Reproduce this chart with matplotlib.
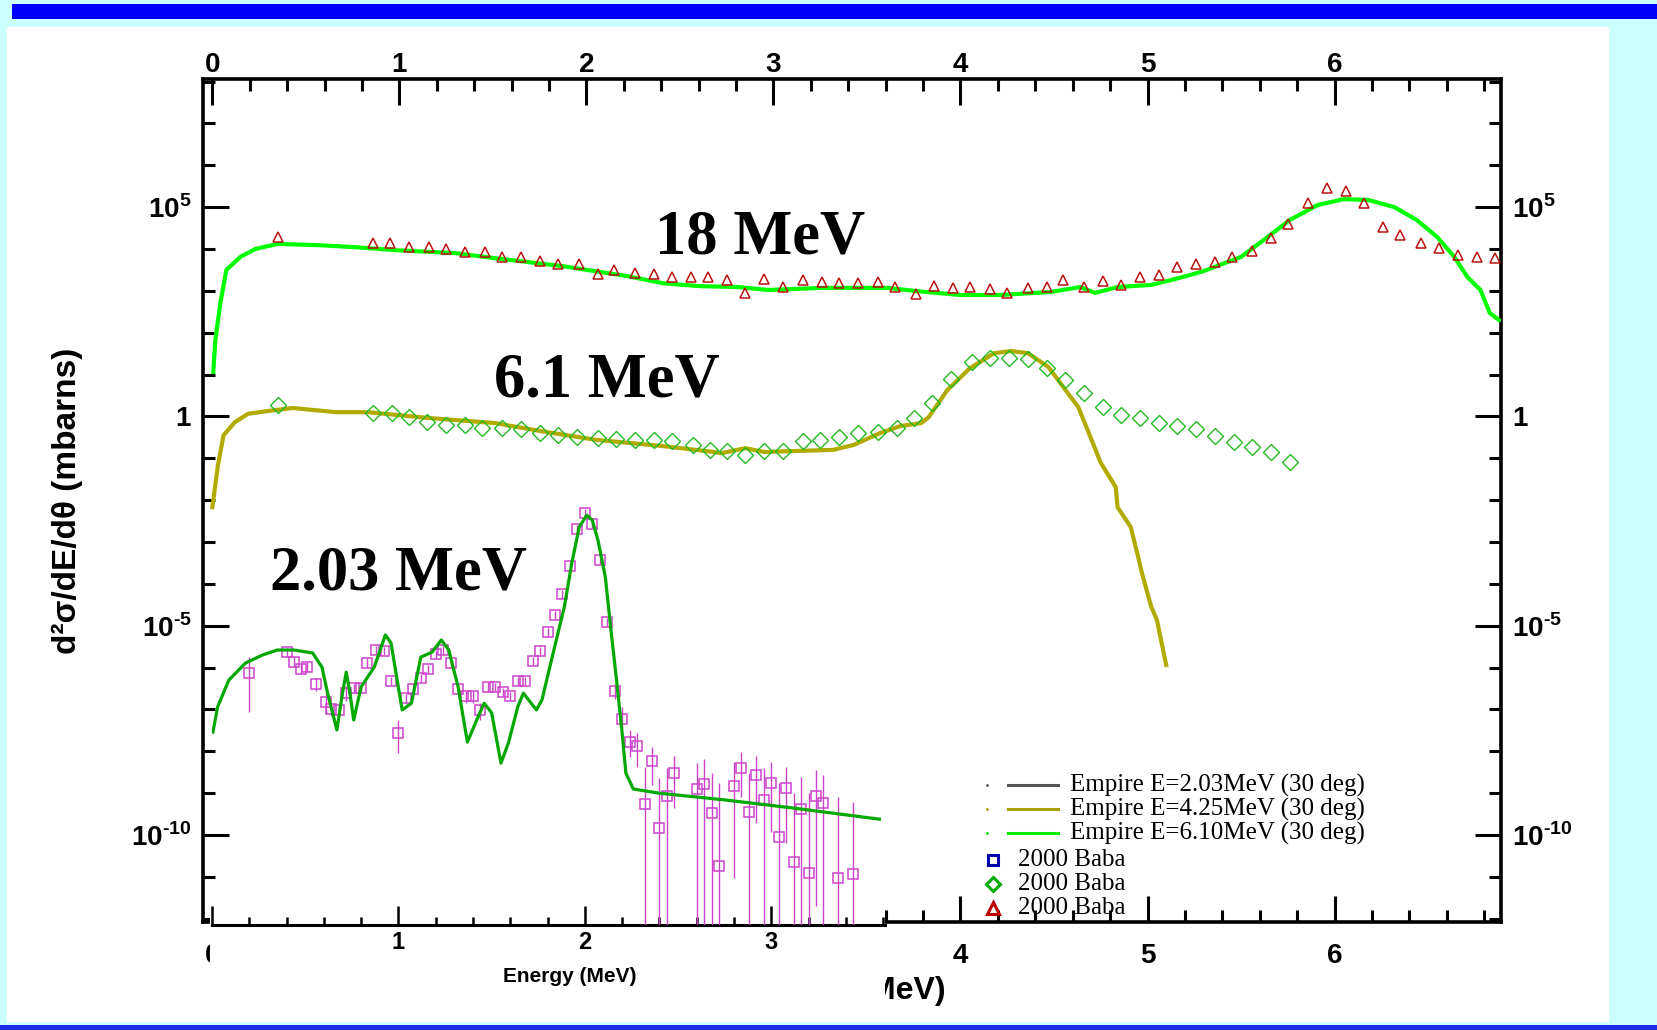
import numpy as np
import matplotlib
matplotlib.use("Agg")
import matplotlib.pyplot as plt
from matplotlib.patches import Rectangle
from matplotlib.lines import Line2D
from matplotlib.ticker import FixedLocator, FixedFormatter, MultipleLocator, NullFormatter

plt.rcParams['font.family'] = ['Liberation Sans', 'DejaVu Sans']
plt.rcParams['font.weight'] = 'bold'
plt.rcParams['axes.labelweight'] = 'bold'
plt.rcParams['mathtext.fontset'] = 'custom'
plt.rcParams['mathtext.rm'] = 'Liberation Sans:bold'
plt.rcParams['mathtext.bf'] = 'Liberation Sans:bold'

# --- 18 MeV: Empire calculation E=6.10 MeV and Baba (2000) data, log10(mb) ---
e18_calc = [0.005, 0.016, 0.043, 0.075, 0.15, 0.23, 0.35, 0.57, 0.77, 0.98, 1.30, 1.51,
            1.87, 2.22, 2.41, 2.61, 2.81, 2.97, 3.27, 3.61, 3.77, 4.00, 4.21, 4.48, 4.64,
            4.72, 4.84, 5.02, 5.19, 5.30, 5.50, 5.62, 5.76, 5.91, 6.05, 6.18, 6.32, 6.44,
            6.55, 6.64, 6.71, 6.78, 6.83, 6.88]
log18_calc = [1.06, 1.82, 2.71, 3.50, 3.81, 4.00, 4.12, 4.09, 4.04, 3.97, 3.90, 3.78,
              3.59, 3.35, 3.18, 3.11, 3.09, 3.02, 3.07, 3.07, 2.99, 2.90, 2.90, 2.97, 3.09,
              2.95, 3.09, 3.14, 3.33, 3.47, 3.81, 4.21, 4.69, 5.05, 5.19, 5.17, 5.00, 4.69,
              4.28, 3.81, 3.33, 3.02, 2.47, 2.30]
e18_exp = [0.35, 0.86, 0.95, 1.05, 1.16, 1.25, 1.35, 1.46, 1.55, 1.65, 1.75, 1.85, 1.96,
           2.06, 2.15, 2.26, 2.36, 2.46, 2.56, 2.65, 2.75, 2.85, 2.95, 3.05, 3.16, 3.26,
           3.35, 3.45, 3.56, 3.65, 3.76, 3.86, 3.96, 4.05, 4.16, 4.25, 4.36, 4.46, 4.55,
           4.66, 4.76, 4.86, 4.96, 5.06, 5.16, 5.26, 5.36, 5.45, 5.56, 5.66, 5.75, 5.86,
           5.96, 6.06, 6.16, 6.26, 6.35, 6.46, 6.56, 6.66, 6.76, 6.86]
log18_exp = [4.28, 4.14, 4.14, 4.04, 4.04, 4.00, 3.93, 3.93, 3.81, 3.81, 3.71, 3.64, 3.64,
             3.40, 3.50, 3.42, 3.40, 3.33, 3.33, 3.33, 3.26, 2.95, 3.28, 3.09, 3.26, 3.21,
             3.18, 3.18, 3.21, 3.09, 2.92, 3.11, 3.07, 3.09, 3.04, 2.95, 3.07, 3.09, 3.26,
             3.09, 3.23, 3.14, 3.33, 3.38, 3.57, 3.64, 3.69, 3.81, 3.95, 4.26, 4.59, 5.10,
             5.45, 5.38, 5.10, 4.52, 4.33, 4.14, 4.02, 3.85, 3.81, 3.78]

# --- 6.1 MeV: Empire calculation E=4.25 MeV and Baba (2000) data ---
e61_calc = [0.0, 0.03, 0.06, 0.12, 0.19, 0.30, 0.43, 0.66, 0.83, 1.16, 1.51, 1.78, 2.05,
            2.41, 2.68, 2.72, 2.85, 2.95, 3.32, 3.43, 3.57, 3.68, 3.79, 3.83, 3.93, 4.05,
            4.18, 4.27, 4.36, 4.47, 4.55, 4.63, 4.68, 4.75, 4.83, 4.84, 4.91, 4.95, 4.97,
            5.02, 5.05, 5.10]
log61_calc = [-2.17, -1.16, -0.45, -0.14, 0.06, 0.13, 0.20, 0.10, 0.10, -0.04, -0.16, -0.37,
              -0.56, -0.71, -0.85, -0.88, -0.76, -0.85, -0.80, -0.68, -0.40, -0.23, -0.16,
              -0.02, 0.63, 1.15, 1.51, 1.56, 1.51, 1.18, 0.70, 0.22, -0.33, -1.11, -1.69,
              -2.17, -2.64, -3.36, -3.74, -4.55, -4.86, -5.94]
e61_exp = [0.35, 0.86, 0.96, 1.05, 1.15, 1.25, 1.35, 1.44, 1.55, 1.65, 1.75, 1.85, 1.95,
           2.06, 2.16, 2.26, 2.36, 2.46, 2.57, 2.66, 2.75, 2.85, 2.95, 3.05, 3.16, 3.25,
           3.35, 3.45, 3.56, 3.66, 3.75, 3.85, 3.95, 4.06, 4.16, 4.26, 4.36, 4.46, 4.56,
           4.66, 4.76, 4.86, 4.96, 5.06, 5.16, 5.26, 5.36, 5.46, 5.56, 5.66, 5.76]
log61_exp = [0.27, 0.08, 0.08, -0.02, -0.14, -0.21, -0.21, -0.28, -0.28, -0.30, -0.40, -0.45,
             -0.49, -0.52, -0.54, -0.56, -0.56, -0.59, -0.68, -0.80, -0.83, -0.92, -0.83,
             -0.83, -0.59, -0.56, -0.49, -0.40, -0.37, -0.28, -0.04, 0.32, 0.89, 1.30, 1.39,
             1.39, 1.37, 1.15, 0.87, 0.56, 0.22, 0.03, -0.04, -0.16, -0.23, -0.30, -0.47,
             -0.61, -0.72, -0.86, -1.10]

# --- 2.03 MeV: Empire calculation and Baba (2000) data with error bounds ---
e203_calc = [0.005, 0.03, 0.09, 0.18, 0.27, 0.35, 0.44, 0.54, 0.59, 0.62, 0.67, 0.70, 0.72,
             0.74, 0.76, 0.80, 0.87, 0.93, 0.96, 1.02, 1.07, 1.12, 1.18, 1.23, 1.27, 1.32,
             1.37, 1.42, 1.46, 1.50, 1.55, 1.59, 1.64, 1.67, 1.74, 1.77, 1.83, 1.89, 1.93,
             1.97, 2.01, 2.04, 2.07, 2.11, 2.14, 2.17, 2.20, 2.22, 2.26, 2.40, 2.75, 3.11, 3.58]
log203_calc = [-7.54, -6.94, -6.30, -5.89, -5.70, -5.58, -5.58, -5.65, -5.99, -6.61, -7.49,
               -6.61, -6.11, -6.61, -7.25, -6.46, -5.99, -5.22, -5.41, -7.01, -6.85, -5.75,
               -5.63, -5.34, -5.58, -6.46, -7.78, -7.25, -6.85, -7.08, -8.28, -7.80, -6.94,
               -6.61, -7.01, -6.77, -5.65, -4.55, -3.50, -2.64, -2.36, -2.48, -2.95, -3.84,
               -5.10, -6.30, -7.56, -8.52, -8.90, -9.00, -9.16, -9.35, -9.62]
e203_exp = [0.20, 0.40, 0.44, 0.48, 0.51, 0.56, 0.61, 0.64, 0.68, 0.72, 0.76, 0.80, 0.83,
            0.88, 0.92, 0.96, 1.00, 1.04, 1.08, 1.12, 1.16, 1.20, 1.24, 1.28, 1.32, 1.36,
            1.40, 1.44, 1.48, 1.52, 1.56, 1.60, 1.64, 1.68, 1.72, 1.76, 1.80, 1.84, 1.88,
            1.92, 1.96, 2.00, 2.04, 2.08, 2.12, 2.16, 2.20, 2.24, 2.28, 2.32, 2.36, 2.40,
            2.44, 2.48, 2.60, 2.64, 2.68, 2.72, 2.80, 2.84, 2.88, 2.92, 2.96, 3.00, 3.04,
            3.08, 3.12, 3.16, 3.20, 3.24, 3.28, 3.36, 3.44]
log203_exp = [-6.13, -5.63, -5.87, -6.03, -5.99, -6.39, -6.82, -6.99, -7.01, -6.61, -6.49,
              -6.49, -5.89, -5.58, -5.60, -6.32, -7.56, -6.73, -6.51, -6.25, -6.03, -5.68,
              -5.58, -5.89, -6.51, -6.68, -6.68, -7.01, -6.46, -6.46, -6.58, -6.68, -6.32,
              -6.32, -5.84, -5.60, -5.15, -4.74, -4.24, -3.57, -2.69, -2.31, -2.57, -3.43,
              -4.91, -6.56, -7.23, -7.78, -7.87, -9.26, -8.23, -9.83, -9.07, -8.52, -8.90,
              -8.78, -9.47, -10.74, -8.83, -8.40, -9.45, -8.57, -9.16, -8.76, -10.05, -8.88,
              -10.64, -9.38, -10.91, -9.07, -9.23, -11.03, -10.93]
log203_lo = [-7.06, -5.75, -5.99, -6.15, -6.11, -6.55, -7.10, -7.15, -7.15, -6.80, -6.60,
             -6.60, -6.00, -5.68, -5.70, -6.42, -8.04, -6.85, -6.62, -6.35, -6.13, -5.78,
             -5.68, -5.99, -6.62, -6.85, -6.85, -7.25, -6.58, -6.56, -6.68, -6.78, -6.42,
             -6.42, -5.94, -5.70, -5.25, -4.84, -4.34, -3.67, -2.79, -2.41, -2.67, -3.53,
             -5.01, -6.75, -7.45, -8.14, -8.37, -13.0, -8.80, -13.0, -13.0, -9.35, -13.0,
             -13.0, -13.0, -13.0, -11.03, -9.09, -13.0, -9.71, -13.0, -9.93, -13.0, -10.19,
             -13.0, -13.0, -13.0, -11.69, -13.0, -13.0, -13.0]
log203_hi = [-5.75, -5.52, -5.75, -5.91, -5.87, -6.25, -6.60, -6.85, -6.88, -6.45, -6.38,
             -6.38, -5.78, -5.48, -5.50, -6.22, -7.25, -6.62, -6.40, -6.15, -5.93, -5.58,
             -5.48, -5.79, -6.40, -6.55, -6.55, -6.85, -6.35, -6.36, -6.48, -6.58, -6.22,
             -6.22, -5.74, -5.50, -5.05, -4.64, -4.14, -3.47, -2.59, -2.21, -2.47, -3.33,
             -4.81, -6.40, -6.95, -7.49, -7.56, -8.37, -7.90, -8.64, -8.40, -8.11, -8.28,
             -8.18, -8.52, -8.76, -8.26, -8.02, -8.52, -8.11, -8.40, -8.26, -8.76, -8.37,
             -9.00, -8.61, -9.00, -8.45, -8.57, -9.09, -9.21]

x_ticks = [0, 1, 2, 3, 4, 5, 6]
x_labels = ['0', '1', '2', '3', '4', '5', '6']
y_major = [1e-10, 1e-5, 1.0, 1e5]
y_labels = [r'$10^{\text{-}10}$', r'$10^{\text{-}5}$', r'$1$', r'$10^{5}$']

legend_lines = ['Empire E=2.03MeV (30 deg)', 'Empire E=4.25MeV (30 deg)',
                'Empire E=6.10MeV (30 deg)']
legend_points = ['2000 Baba', '2000 Baba', '2000 Baba']

W, H = 1657, 1030


def px_box(x0, y0, x1, y1):
    return [x0 / W, 1 - y1 / H, (x1 - x0) / W, (y1 - y0) / H]


def fx(x):
    return x / W


def fy(y):
    return 1 - y / H


fig = plt.figure(figsize=(W / 100, H / 100), dpi=100, facecolor='#CCFFFF')

# slide frame: white panel, blue bars
fig.add_artist(Rectangle((fx(7), fy(1022)), fx(1609 - 7), (1022 - 27) / H,
                         transform=fig.transFigure, facecolor='white', edgecolor='none', zorder=-1))
fig.add_artist(Rectangle((fx(12), fy(19)), fx(W - 12), 15 / H,
                         transform=fig.transFigure, facecolor='#0000FF', edgecolor='none', zorder=-1))
fig.add_artist(Rectangle((0, 0), 1, 5 / H,
                         transform=fig.transFigure, facecolor='#1A2EE8', edgecolor='none', zorder=-1))

# main panel
ax = fig.add_axes(px_box(203, 79, 1501, 922), zorder=1)
ax.set_facecolor('none')
ax.set_yscale('log')
ax.set_xlim(-0.05, 6.89)
ax.set_ylim(10 ** -12.08, 10 ** 8.06)

ax.plot(e61_calc, 10 ** np.array(log61_calc), color='#B3AA00', lw=3.0, zorder=3)
ax.plot(e61_exp, 10 ** np.array(log61_exp), ls='none', marker='D', ms=8.5, mfc='none',
        mec='#22BB22', mew=1.0, zorder=4)
ax.plot(e18_calc, 10 ** np.array(log18_calc), color='#00FF00', lw=3.0, zorder=3)
ax.plot(e18_exp, 10 ** np.array(log18_exp), ls='none', marker='^', ms=7, mfc='none',
        mec='#BB1111', mew=1.1, zorder=4)

ax.yaxis.set_major_locator(FixedLocator(y_major))
ax.yaxis.set_major_formatter(FixedFormatter(y_labels))
ax.yaxis.set_minor_locator(FixedLocator([10.0 ** k for k in range(-12, 9)]))
ax.yaxis.set_minor_formatter(NullFormatter())
ax.xaxis.set_major_locator(FixedLocator(x_ticks))
ax.xaxis.set_major_formatter(FixedFormatter(x_labels))
ax.xaxis.set_minor_locator(MultipleLocator(0.2))

ax.tick_params(which='both', direction='in', top=True, right=True, labeltop=False,
               labelright=True, width=2.2, labelsize=20)
ax.tick_params(which='major', length=19)
ax.tick_params(axis='y', which='major', pad=8)
ax.tick_params(axis='x', which='major', pad=15)
ax.tick_params(which='minor', length=8.5)
for s in ax.spines.values():
    s.set_linewidth(2.6)

# numbers 1-3 of the main bottom axis sit under the 2.03 MeV panel
for tick, val in zip(ax.xaxis.get_major_ticks(), x_ticks):
    if 1 <= val <= 3:
        tick.label1.set_visible(False)

# top axis labels sit closer to the frame than the bottom ones
top = ax.secondary_xaxis('top')
top.xaxis.set_major_locator(FixedLocator(x_ticks))
top.xaxis.set_major_formatter(FixedFormatter(x_labels))
top.xaxis.set_minor_locator(FixedLocator([]))
top.tick_params(length=0, pad=0.5, labelsize=20)
top.spines['top'].set_visible(False)

ax.set_ylabel('d²σ/dE/dθ (mbarns)', fontsize=24, va='center')
ax.yaxis.set_label_coords((67 - 203) / 1298, 0.5)
ax.set_xlabel('Energy (MeV)', fontsize=23, ha='right', va='center')
ax.xaxis.set_label_coords((946 - 203) / 1298, (922 - 991) / 843)

# white sheet under the 2.03 MeV panel hides the main bottom axis there
fig.add_artist(Rectangle((fx(210), fy(1015)), fx(885 - 210), (1015 - 892) / H,
                         transform=fig.transFigure, facecolor='white', edgecolor='none', zorder=2))

# 2.03 MeV panel, same log scale as the main one
axi = fig.add_axes(px_box(212, 79, 885, 925), zorder=3)
axi.set_facecolor('none')
axi.set_yscale('log')
axi.set_xlim(0, 3.61)
axi.set_ylim(10 ** -12.148, 10 ** 8.06)
for side in ('left', 'right', 'top'):
    axi.spines[side].set_visible(False)
axi.spines['bottom'].set_linewidth(2.2)

y203 = 10 ** np.array(log203_exp)
yerr = [y203 - 10 ** np.array(log203_lo), 10 ** np.array(log203_hi) - y203]
axi.errorbar(e203_exp, y203, yerr=yerr, ls='none', marker='s', ms=6.5, mfc='none',
             mec='#CC44CC', mew=1.1, ecolor='#CC44CC', elinewidth=1.0, zorder=3)
axi.plot(e203_calc, 10 ** np.array(log203_calc), color='#00A800', lw=2.3, zorder=4)

axi.set_yticks([])
axi.yaxis.set_minor_locator(FixedLocator([]))
axi.xaxis.set_major_locator(FixedLocator([0, 1, 2, 3]))
axi.xaxis.set_major_formatter(FixedFormatter(['', '1', '2', '3']))
axi.xaxis.set_minor_locator(MultipleLocator(0.2))
axi.tick_params(axis='x', which='both', direction='in', width=1.8, labelsize=17, pad=4)
axi.tick_params(axis='x', which='major', length=14)
axi.tick_params(axis='x', which='minor', length=6)
axi.set_xlabel('Energy (MeV)', fontsize=15, va='center')
axi.xaxis.set_label_coords((570 - 212) / 673, (925 - 977) / 846)

# energy annotations
big = dict(family='Liberation Serif', weight='bold', size=45, ha='center', va='center', zorder=6)
fig.text(fx(760), fy(238), '18 MeV', **big)
fig.text(fx(607), fy(382), '6.1 MeV', **big)
fig.text(fx(398), fy(574), '2.03 MeV', **big)

# legend
leg_font = dict(family='Liberation Serif', weight='normal', size=18, va='center', zorder=6)
line_cols = ['#555555', '#A8A000', '#00EE00']
for i, (label, col) in enumerate(zip(legend_lines, line_cols)):
    y = fy(785 + 24 * i)
    fig.add_artist(Line2D([fx(987)], [y], marker='.', ms=2, color=col,
                          transform=fig.transFigure, zorder=6))
    fig.add_artist(Line2D([fx(1008), fx(1058)], [y, y], color=col, lw=2.2,
                          transform=fig.transFigure, zorder=6))
    fig.text(fx(1070), y, label, **leg_font)

mk_styles = [('s', '#0000AA', 7), ('D', '#00AA00', 7), ('^', '#BB0000', 8)]
for i, (label, (mk, col, ms)) in enumerate(zip(legend_points, mk_styles)):
    y = fy(860 + 24 * i)
    fig.add_artist(Line2D([fx(993)], [y], marker=mk, ms=ms, mfc='none', mec=col, mew=2.2,
                          ls='none', transform=fig.transFigure, zorder=6))
    fig.text(fx(1018), y, label, **leg_font)

fig.savefig('out.png', dpi=100, facecolor=fig.get_facecolor())
